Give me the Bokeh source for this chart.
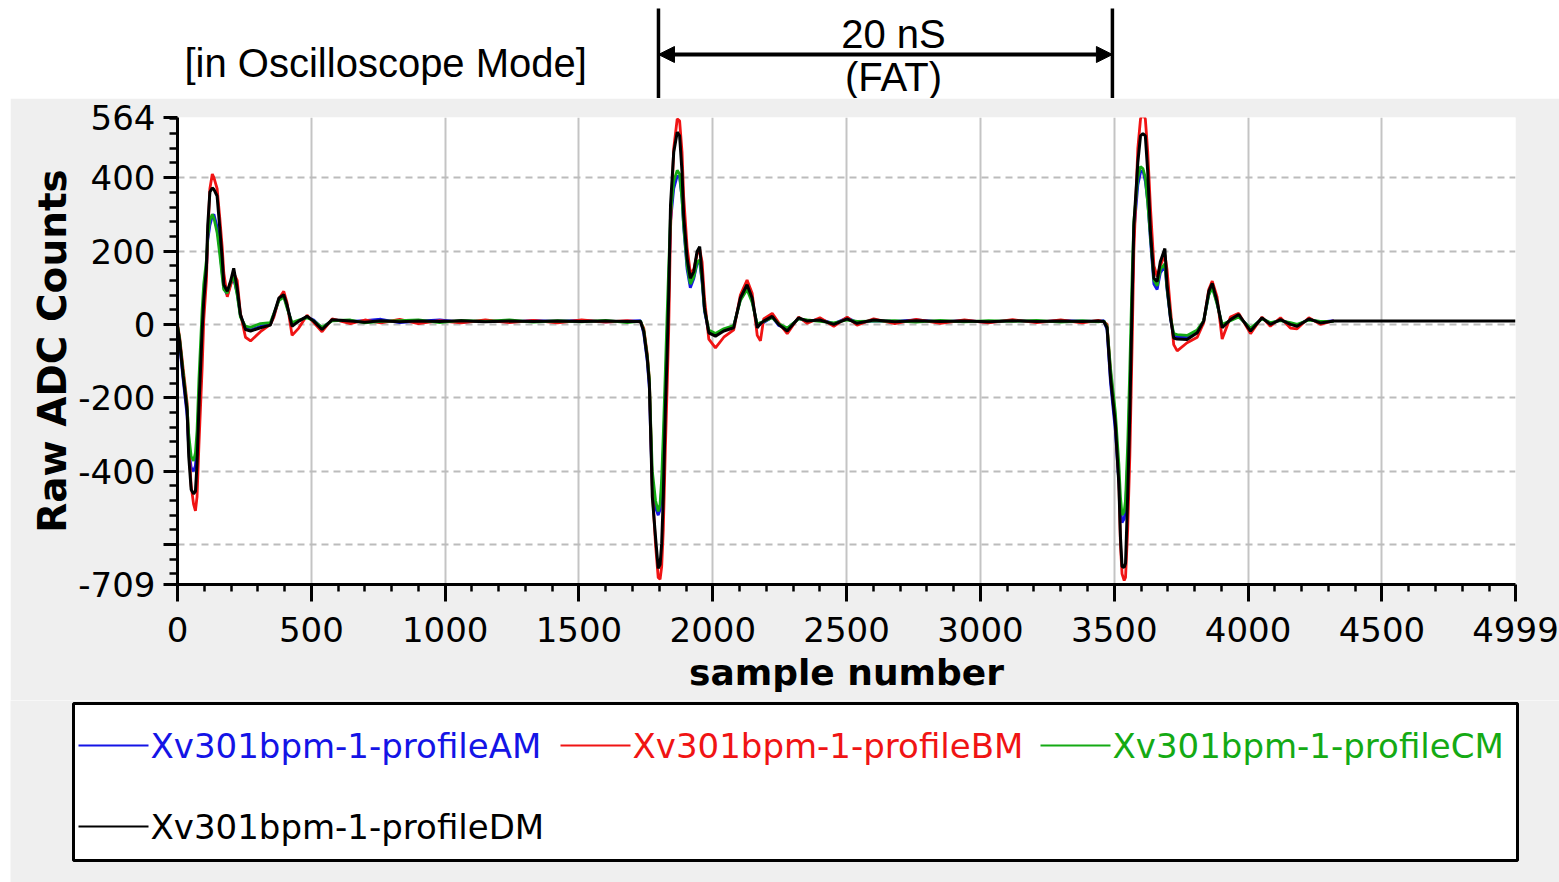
from bokeh.plotting import figure
from bokeh.models import Range1d, FixedTicker, Arrow, NormalHead, ColumnDataSource
from bokeh.layouts import column
from bokeh.embed import file_html
from bokeh.resources import INLINE
from bokeh.core.properties import value

# ---------------- data ----------------
sample_number = [
    0, 8, 21, 36, 42, 51, 60, 67, 73, 80,
    92, 98, 108, 113, 121, 130, 136, 148, 158, 167,
    173, 186, 198, 210, 223, 235, 254, 273, 310, 347,
    360, 379, 397, 409, 428, 453, 484, 509, 540, 578,
    646, 700, 760, 830, 900, 980, 1060, 1150, 1240, 1330,
    1420, 1510, 1600, 1680, 1730,
    1742, 1755, 1763, 1768, 1774, 1786, 1796, 1803, 1809, 1815,
    1823, 1829, 1835, 1842, 1854, 1867, 1876, 1885, 1891, 1904,
    1916, 1929, 1941, 1951, 1960, 1969, 1985, 2010, 2041, 2078,
    2103, 2128, 2147, 2166, 2178, 2190, 2222, 2246, 2278, 2321,
    2353, 2400, 2452, 2502, 2539, 2601, 2680, 2760, 2850, 2940,
    3030, 3120, 3210, 3300, 3380, 3440, 3461,
    3473, 3486, 3504, 3517, 3523, 3529, 3537, 3542, 3550, 3558,
    3567, 3573, 3588, 3598, 3607, 3616, 3625, 3635, 3648, 3660,
    3672, 3689, 3697, 3710, 3722, 3735, 3772, 3810, 3834, 3853,
    3866, 3884, 3903, 3934, 3965, 4009, 4052, 4083, 4121, 4158,
    4183, 4227, 4270, 4320,
]

profile_am = [
    -8, -55, -150, -250, -340, -390, -400, -385, -330, -200,
    -10, 70, 150, 230, 270, 295, 300, 265, 205, 140,
    100, 80, 110, 125, 85, 25, -10, -15, -5, 0,
    25, 68, 78, 50, 0, 10, 20, 12, -10, 12,
    8, 10, 14, 5, 9, 12, 6, 10, 7, 10,
    8, 11, 7, 9, 10,
    -25, -100, -175, -310, -440, -500, -520, -505, -450, -350,
    -180, -40, 90, 280, 370, 405, 400, 345, 265, 150,
    100, 125, 165, 170, 115, 35, -20, -30, -15, -5,
    68, 100, 65, -5, 0, 5, 20, -3, -12, 16,
    8, 14, 2, 18, 5, 10, 8, 12, 7, 10,
    6, 11, 7, 10, 9, 8, 10,
    -15, -160, -290, -430, -500, -540, -530, -500, -380, -190,
    60, 250, 380, 415, 420, 390, 335, 230, 110, 95,
    140, 160, 95, 15, -30, -35, -35, -18, 8, 82,
    105, 58, -5, 12, 22, -12, 16, 3, 12, 2,
    -3, 14, 6, 10,
]

profile_bm = [
    0, -35, -120, -215, -330, -440, -490, -508, -470, -330,
    -120, 10, 120, 240, 370, 410, 400, 370, 290, 210,
    140, 75, 105, 140, 120, 30, -35, -45, -20, 0,
    20, 70, 90, 60, -30, -10, 25, 5, -20, 15,
    2, 12, 4, 14, 2, 10, 4, 12, 5, 11,
    4, 12, 6, 10, 7,
    -10, -80, -150, -280, -450, -600, -690, -695, -660, -560,
    -330, -180, -20, 260, 480, 560, 555, 470, 350, 210,
    140, 150, 190, 205, 170, 70, -40, -64, -35, -15,
    80, 121, 85, -30, -45, 15, 30, 5, -25, 20,
    3, 18, -5, 20, -2, 15, 2, 14, 3, 12,
    4, 13, 5, 12, 4, 11, 7,
    0, -130, -260, -420, -600, -680, -698, -690, -560, -360,
    -40, 200, 480, 560, 575, 560, 470, 320, 160, 130,
    160, 190, 150, 40, -55, -72, -50, -35, 5, 95,
    118, 75, -40, 20, 30, -25, 20, -5, 18, -10,
    -12, 18, 0, 10,
]

profile_cm = [
    -3, -40, -130, -225, -300, -360, -372, -350, -290, -150,
    40, 110, 175, 240, 285, 300, 290, 250, 190, 130,
    95, 85, 115, 130, 80, 20, -5, -8, 2, 5,
    30, 65, 75, 45, 5, 12, 18, 10, -8, 10,
    12, 4, 8, 10, 12, 5, 11, 8, 12, 6,
    10, 7, 11, 5, 9,
    -15, -85, -150, -270, -400, -480, -510, -490, -420, -300,
    -120, 20, 150, 300, 390, 420, 410, 340, 270, 160,
    110, 130, 170, 175, 120, 40, -15, -25, -12, -3,
    65, 95, 60, 0, 5, 8, 18, 2, -10, 15,
    12, 8, 4, 12, 8, 9, 10, 6, 11, 7,
    10, 8, 11, 6, 10, 7, 9,
    -5, -120, -240, -380, -470, -520, -510, -480, -330, -120,
    140, 280, 400, 430, 425, 400, 330, 240, 120, 105,
    150, 165, 100, 20, -25, -28, -30, -15, 10, 80,
    100, 55, 0, 10, 20, -10, 15, 5, 10, 5,
    0, 12, 8, 8,
]

profile_dm = [
    -5, -45, -140, -235, -360, -450, -462, -455, -380, -226,
    -18, 64, 153, 270, 361, 372, 368, 350, 262, 180,
    108, 90, 117, 153, 99, 27, -14, -18, -9, -2,
    27, 72, 81, 54, -5, 9, 22, 9, -14, 13,
    9, 6, 10, 7, 9, 8, 10, 7, 9, 8,
    9, 8, 9, 8, 8,
    -19, -91, -163, -299, -470, -580, -665, -655, -597, -470,
    -226, -91, 72, 325, 469, 524, 514, 415, 298, 180,
    126, 144, 198, 212, 135, 45, -23, -32, -18, -9,
    72, 108, 72, -9, 2, 9, 22, 0, -18, 18,
    9, 12, 0, 15, 3, 12, 7, 10, 8, 9,
    7, 10, 8, 9, 8, 9, 8,
    -9, -145, -272, -435, -579, -660, -662, -651, -470, -244,
    72, 270, 442, 514, 520, 514, 415, 253, 126, 117,
    171, 207, 108, 18, -37, -40, -41, -23, 9, 90,
    112, 63, -9, 13, 27, -18, 18, 0, 13, 0,
    -5, 15, 4, 9,
]
# profile DM keeps running to the end of the record
dm_tail_sample = [4999]
dm_tail_value = [9]

series_names = ["Xv301bpm-1-profileAM", "Xv301bpm-1-profileBM",
                "Xv301bpm-1-profileCM", "Xv301bpm-1-profileDM"]
series_colors = ["#1414e6", "#f01414", "#14aa14", "#000000"]

x_major_ticks = [0, 500, 1000, 1500, 2000, 2500, 3000, 3500, 4000, 4500, 4999]
x_minor_ticks = [t for t in range(100, 4999, 100) if t % 500 != 0]
y_major_ticks = [-709, -600, -400, -200, 0, 200, 400, 564]
y_unlabeled_ticks = [-600]
y_minor_ticks = [t for t in range(-680, 564, 40) if t not in y_major_ticks]
x_limits = (0, 4999)
y_limits = (-709, 564)

fat_marks = [1797, 3493]
fat_texts = ["20 nS", "(FAT)"]
mode_text = "[in Oscilloscope Mode]"

GRAY = "#efefef"
TOP_H = 98
x_rng = Range1d(*x_limits)

# ---------------- top annotation strip ----------------
top = figure(width=1559, height=TOP_H, x_range=x_rng, y_range=Range1d(TOP_H, 0),
             min_border_left=177, min_border_right=44, min_border_top=0, min_border_bottom=0,
             x_axis_location=None, y_axis_location=None, toolbar_location=None,
             output_backend="svg", background_fill_color="white",
             border_fill_color="white", outline_line_color=None, frame_align=False)
top.grid.grid_line_color = None
top.segment(x0=fat_marks, y0=[8, 8], x1=fat_marks, y1=[TOP_H, TOP_H],
            line_color="black", line_width=3.5)
top.add_layout(Arrow(start=NormalHead(size=16, fill_color="black", line_color="black"),
                     end=NormalHead(size=16, fill_color="black", line_color="black"),
                     x_start=fat_marks[0], y_start=54, x_end=fat_marks[1], y_end=54,
                     line_color="black", line_width=4))
mid = (fat_marks[0] + fat_marks[1]) / 2
top.text(x=[mid, mid], y=[33, 76], text=fat_texts, x_offset=8,
         text_font=value("Liberation Sans"), text_font_size="40px",
         text_align="center", text_baseline="middle", text_color="black")
top.text(x=[0], y=[62], text=[mode_text], x_offset=7,
         text_font=value("Liberation Sans"), text_font_size="40px",
         text_align="left", text_baseline="middle", text_color="black")

# ---------------- main plot ----------------
p = figure(width=1549, height=700 - TOP_H, x_range=x_rng, y_range=Range1d(*y_limits),
           margin=(0, 0, 0, 10), frame_align=False,
           min_border_left=167, min_border_right=44, min_border_top=117 - TOP_H,
           min_border_bottom=116,
           toolbar_location=None, output_backend="svg",
           background_fill_color="white", border_fill_color=GRAY, outline_line_color=None)

src = ColumnDataSource(dict(x=sample_number, am=profile_am, bm=profile_bm, cm=profile_cm))
src_d = ColumnDataSource(dict(x=sample_number + dm_tail_sample, dm=profile_dm + dm_tail_value))
p.line("x", "am", source=src, line_color=series_colors[0], line_width=2.8)
p.line("x", "bm", source=src, line_color=series_colors[1], line_width=2.8)
p.line("x", "cm", source=src, line_color=series_colors[2], line_width=2.8)
p.line("x", "dm", source=src_d, line_color=series_colors[3], line_width=3)

xt = FixedTicker(ticks=x_major_ticks, minor_ticks=x_minor_ticks)
yt = FixedTicker(ticks=y_major_ticks, minor_ticks=y_minor_ticks)
p.xaxis.ticker = xt
p.yaxis.ticker = yt
p.xgrid.ticker = xt
p.ygrid.ticker = yt
p.yaxis.major_label_overrides = {t: ("" if t in y_unlabeled_ticks else str(t))
                                 for t in y_major_ticks}

p.xgrid.grid_line_color = "#c4c4c4"
p.xgrid.grid_line_width = 2
p.ygrid.grid_line_color = "#bcbcbc"
p.ygrid.grid_line_width = 2
p.ygrid.grid_line_dash = "7 5"

for ax in (p.xaxis, p.yaxis):
    ax.axis_line_color = "black"
    ax.axis_line_width = 3
    ax.major_tick_line_color = "black"
    ax.major_tick_line_width = 3
    ax.minor_tick_line_color = "black"
    ax.minor_tick_line_width = 2.5
    ax.major_tick_in = 0
    ax.minor_tick_in = 0
    ax.major_label_text_font = "DejaVu Sans"
    ax.major_label_text_font_size = "34px"
    ax.major_label_text_color = "black"
    ax.axis_label_text_font = "DejaVu Sans"
    ax.axis_label_text_font_style = "bold"
    ax.axis_label_text_color = "black"

p.xaxis.major_tick_out = 17
p.xaxis.minor_tick_out = 7
p.xaxis.major_label_standoff = 15
p.xaxis.axis_label = "sample number"
p.xaxis.axis_label_text_font_size = "36px"
p.xaxis.axis_label_standoff = 7

p.yaxis.major_tick_out = 14
p.yaxis.minor_tick_out = 8
p.yaxis.major_label_standoff = 8
p.yaxis.axis_label = "Raw ADC Counts"
p.yaxis.axis_label_text_font_size = "39px"
p.yaxis.axis_label_standoff = 0

# ---------------- legend panel ----------------
leg = figure(width=1549, height=182, x_range=Range1d(10, 1559), y_range=Range1d(882, 700),
             margin=(0, 0, 0, 10), frame_align=False,
             min_border_left=0, min_border_right=0, min_border_top=0, min_border_bottom=0,
             x_axis_location=None, y_axis_location=None, toolbar_location=None,
             output_backend="svg", background_fill_color=GRAY,
             border_fill_color=GRAY, outline_line_color=None)
leg.grid.grid_line_color = None
leg.quad(left=[73], right=[1517], top=[703], bottom=[860],
         fill_color="white", line_color="black", line_width=3)
leg_line_x0 = [78, 560, 1040, 78]
leg_row_y = [745, 745, 745, 826]
leg.segment(x0=leg_line_x0, y0=leg_row_y, x1=[x + 70 for x in leg_line_x0], y1=leg_row_y,
            line_color=series_colors, line_width=2)
leg_src = ColumnDataSource(dict(x=[x + 72 for x in leg_line_x0], y=leg_row_y,
                                text=series_names, color=series_colors))
leg.text("x", "y", text="text", text_color="color", source=leg_src,
         text_font=value("DejaVu Sans"), text_font_size="34px",
         text_align="left", text_baseline="middle")

layout = column(top, p, leg, spacing=0)
open("out.html", "w").write(file_html(layout, INLINE))
